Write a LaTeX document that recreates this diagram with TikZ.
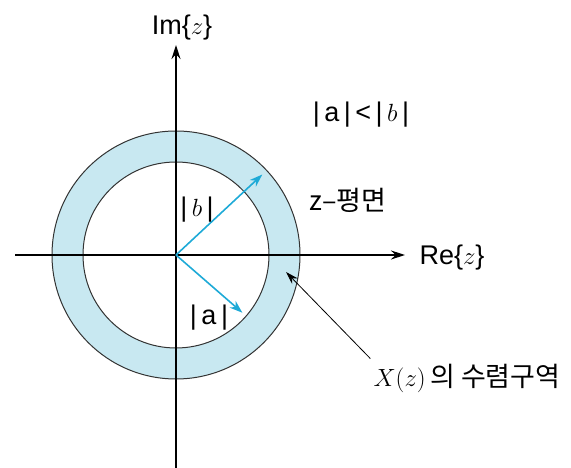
\documentclass[tikz,border=0pt]{standalone}
\usepackage{fontspec}
\setmainfont{Liberation Sans}
\newfontfamily\kr{Noto Sans CJK KR}
\usepackage{tikz}
\usetikzlibrary{arrows.meta, calc, positioning}
\definecolor{roccol}{RGB}{200,232,241}
\definecolor{radcol}{RGB}{30,170,215}

\begin{document}
\begin{tikzpicture}[
			x=1pt, y=1pt,
			every node/.style={
					inner sep=1pt,
					font=\fontsize{27}{30}\selectfont
				},
			axis/.style={
					line width=1.2pt,
					-{Stealth[length=14pt, width=9pt]}
				},
			radiusarrow/.style={
					draw=radcol, line width=1.6pt,
					-{Stealth[length=13pt, width=9pt]}
				},
			rim/.style={
					line width=1pt, black!80
				}
		]
		\useasboundingbox (0, 0) rectangle (571, 468);
		\coordinate (O) at (176, 213);

		% region of convergence
		\fill[roccol, even odd rule] (O) circle[radius=124] (O) circle[radius=93];
		\draw[rim] (O) circle[radius=124];
		\draw[rim] (O) circle[radius=93];

		% axes
		\coordinate (xl) at (15, 213);
		\coordinate (xr) at (405, 213);
		\coordinate (yb) at (176, 0);
		\coordinate (yt) at (176, 423);
		\draw[axis] (xl) -- (xr);
		\draw[axis] (yb) -- (yt);

		\node (re) at (452, 210) {Re\{$z$\}};
		\node (im) at (182, 440) {Im\{$z$\}};

		% radii
		\coordinate (btip) at ($(O)+(43:118)$);
		\coordinate (atip) at ($(O)+(-41:88)$);
		\draw[radiusarrow] (O) -- (btip);
		\draw[radiusarrow] (O) -- (atip);
		\node (blabel) at (197, 258) {|\,$b$\,|};
		\node (alabel) at (209, 150) {|\,a\,|};

		\node (cond) at (361, 353) {|\,a\,|\,<\,|\,$b$\,|};
		\node (plane) at (348, 268) {\kr z–평면};

		\node (roclabel) at (467, 90) {$X(z)$\,\kr 의 수렴구역};
		\coordinate (rocpt) at (286, 196);
		\draw[line width=0.8pt, -{Stealth[length=13pt, width=8pt]}]
		(roclabel.north west) ++(-2, 4) -- (rocpt);
	\end{tikzpicture}
\end{document}
